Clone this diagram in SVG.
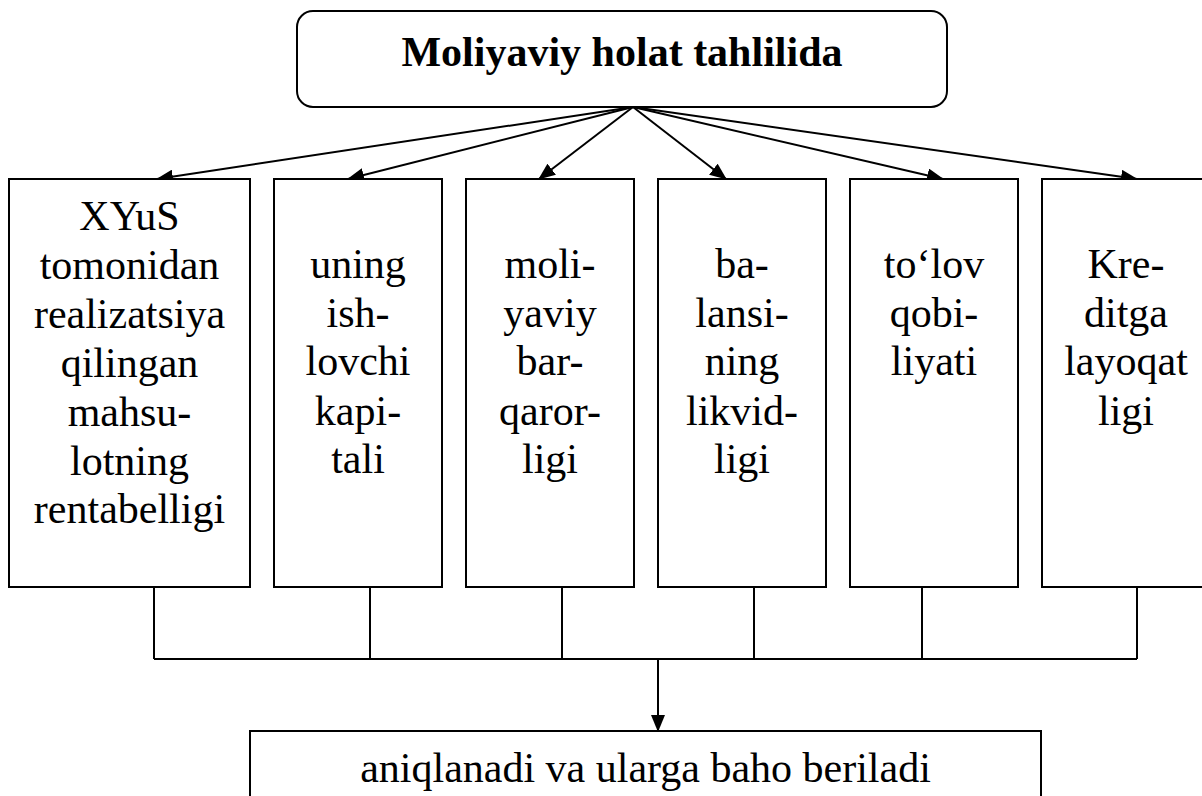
<svg xmlns="http://www.w3.org/2000/svg" width="1202" height="796" viewBox="0 0 1202 796">
<style>
.box{fill:#fff;stroke:#000;stroke-width:2}
.t{font-family:"Liberation Serif","Times New Roman",serif;font-size:42px;fill:#000;text-anchor:middle}
.title{font-weight:bold}
.ln{fill:none;stroke:#000;stroke-width:2}
</style>
<defs>
<marker id="ah" markerUnits="userSpaceOnUse" markerWidth="17" markerHeight="14" refX="16" refY="7" orient="auto" viewBox="0 0 17 14">
<path d="M0,0 L17,7 L0,14 z" fill="#000"/>
</marker>
</defs>
<rect width="1202" height="796" fill="#fff"/>
<g id="connectors">
<line class="ln" x1="633" y1="107" x2="157" y2="179" marker-end="url(#ah)"/>
<line class="ln" x1="633" y1="107" x2="348" y2="179" marker-end="url(#ah)"/>
<line class="ln" x1="633" y1="107" x2="539" y2="179" marker-end="url(#ah)"/>
<line class="ln" x1="633" y1="107" x2="726" y2="179" marker-end="url(#ah)"/>
<line class="ln" x1="633" y1="107" x2="943" y2="179" marker-end="url(#ah)"/>
<line class="ln" x1="633" y1="107" x2="1137" y2="179" marker-end="url(#ah)"/>
<path class="ln" d="M154,587 V659 M370,587 V659 M562,587 V659 M754,587 V659 M922,587 V659 M1137,587 V659 M154,659 H1137"/>
<line class="ln" x1="658" y1="659" x2="658" y2="731" marker-end="url(#ah)"/>
</g>
<g id="top">
<rect class="box" x="297" y="11" width="650" height="96" rx="16" ry="16" stroke-width="2.5"/>
<text class="t title" x="622" y="66">Moliyaviy holat tahlilida</text>
</g>
<g id="b1">
<rect class="box" x="9" y="179" width="241" height="408"/>
<text class="t"><tspan x="129.5" y="230">XYuS</tspan><tspan x="129.5" y="279">tomonidan</tspan><tspan x="129.5" y="328">realizatsiya</tspan><tspan x="129.5" y="377">qilingan</tspan><tspan x="129.5" y="426">mahsu-</tspan><tspan x="129.5" y="475">lotning</tspan><tspan x="129.5" y="523">rentabelligi</tspan></text>
</g>
<g id="b2">
<rect class="box" x="274" y="179" width="168" height="408"/>
<text class="t"><tspan x="358" y="278">uning</tspan><tspan x="358" y="327">ish-</tspan><tspan x="358" y="375">lovchi</tspan><tspan x="358" y="425">kapi-</tspan><tspan x="358" y="473">tali</tspan></text>
</g>
<g id="b3">
<rect class="box" x="466" y="179" width="168" height="408"/>
<text class="t"><tspan x="550" y="278">moli-</tspan><tspan x="550" y="327">yaviy</tspan><tspan x="550" y="375">bar-</tspan><tspan x="550" y="425">qaror-</tspan><tspan x="550" y="473">ligi</tspan></text>
</g>
<g id="b4">
<rect class="box" x="658" y="179" width="168" height="408"/>
<text class="t"><tspan x="742" y="278">ba-</tspan><tspan x="742" y="327">lansi-</tspan><tspan x="742" y="375">ning</tspan><tspan x="742" y="425">likvid-</tspan><tspan x="742" y="473">ligi</tspan></text>
</g>
<g id="b5">
<rect class="box" x="850" y="179" width="168" height="408"/>
<text class="t"><tspan x="934" y="278">to‘lov</tspan><tspan x="934" y="327">qobi-</tspan><tspan x="934" y="375">liyati</tspan></text>
</g>
<g id="b6">
<rect class="box" x="1042" y="179" width="168" height="408"/>
<text class="t"><tspan x="1126" y="278">Kre-</tspan><tspan x="1126" y="327">ditga</tspan><tspan x="1126" y="375">layoqat</tspan><tspan x="1126" y="425">ligi</tspan></text>
</g>
<g id="bottom">
<rect class="box" x="250" y="731" width="791" height="80"/>
<text class="t" x="645.5" y="782">aniqlanadi va ularga baho beriladi</text>
</g>
</svg>
